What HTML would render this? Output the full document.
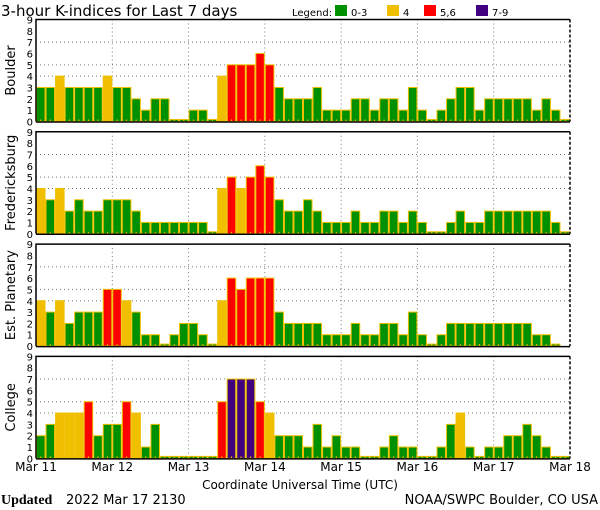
<!DOCTYPE html>
<html><head><meta charset="utf-8"><style>
body{margin:0;background:#fff;}
svg{display:block;font-family:"DejaVu Sans","Liberation Sans",sans-serif;}
</style></head><body>
<svg id="chart" width="600" height="510" viewBox="0 0 600 510">
<text x="1" y="16" font-size="15" fill="#000">3-hour K-indices for Last 7 days</text>
<g>
<text x="292" y="16" font-size="10">Legend:</text>
<rect x="335" y="5" width="12" height="11" fill="#009000"/>
<text x="351" y="16" font-size="10">0-3</text>
<rect x="387" y="5" width="12" height="11" fill="#f0c000"/>
<text x="403" y="16" font-size="10">4</text>
<rect x="424" y="5" width="12" height="11" fill="#ff0000"/>
<text x="440" y="16" font-size="10">5,6</text>
<rect x="476" y="5" width="12" height="11" fill="#400080"/>
<text x="492" y="16" font-size="10">7-9</text>
</g>
<g id="panels"></g>
<text x="300" y="489" font-size="12" text-anchor="middle">Coordinate Universal Time (UTC)</text>
<text x="1" y="504" font-size="14" font-family="Liberation Serif,serif" font-weight="bold">Updated</text>
<text x="66" y="504" font-size="13">2022 Mar 17 2130</text>
<text x="598" y="504" font-size="13" text-anchor="end">NOAA/SWPC Boulder, CO USA</text>
</svg>
<script>
const dayLabels = ["Mar 11","Mar 12","Mar 13","Mar 14","Mar 15","Mar 16","Mar 17","Mar 18"];
const stationNames = ["Boulder","Fredericksburg","Est. Planetary","College"];
const boulder = [3,3,4,3,3,3,3,4, 3,3,2,1,2,2,0,0, 1,1,0,4,5,5,5,6, 5,3,2,2,2,3,1,1, 1,2,2,1,2,2,1,3, 1,0,1,2,3,3,1,2, 2,2,2,2,1,2,1,0];
const fredericksburg = [4,3,4,2,3,2,2,3, 3,3,2,1,1,1,1,1, 1,1,0,4,5,4,5,6, 5,3,2,2,3,2,1,1, 1,2,1,1,2,2,1,2, 1,0,0,1,2,1,1,2, 2,2,2,2,2,2,1,0];
const planetary = [4,3,4,2,3,3,3,5, 5,4,3,1,1,0,1,2, 2,1,0,4,6,5,6,6, 6,3,2,2,2,2,1,1, 1,2,1,1,2,2,1,3, 1,0,1,2,2,2,2,2, 2,2,2,2,1,1,0,null];
const college = [2,3,4,4,4,5,2,3, 3,5,4,1,3,0,0,0, 0,0,0,5,7,7,7,5, 4,2,2,2,1,3,1,2, 1,1,0,0,1,2,1,1, 0,0,1,3,4,1,0,1, 1,2,2,3,2,1,0,0];
const yTicks = [0,1,2,3,4,5,6,7,8,9];
const gridLevels = [4,5,7];
const series = [boulder, fredericksburg, planetary, college];

const NS = "http://www.w3.org/2000/svg";
const X0 = 36, X1 = 570, N = 56, UNIT = 11.33;
const xScale = i => X0 + i * (X1 - X0) / N;
const panelsG = document.getElementById('panels');
function mk(tag, attrs, parent){const e=document.createElementNS(NS,tag);for(const k in attrs)e.setAttribute(k,attrs[k]);parent.appendChild(e);return e;}
function color(v){return v<=3?"#009000":v===4?"#f0c000":v<=6?"#ff0000":"#400080";}

series.forEach((data, p) => {
  const top = 19.5 + p * 112.3;
  const bottom = top + 9 * UNIT;
  const yScale = v => bottom - v * UNIT;
  const g = mk('g', {}, panelsG);
  
  
  gridLevels.forEach(l => {
    const ln = mk('line', {x1:X0, x2:X1, y1:yScale(l), y2:yScale(l), stroke:"#777", "stroke-dasharray":"1,3"}, g);
    
    
  });
  for (let d = 1; d < 7; d++) {
    const x = xScale(d * 8);
    const ln = mk('line', {x1:x, x2:x, y1:top, y2:bottom, stroke:"#777", "stroke-dasharray":"1,3"}, g);
    
    
  }
  data.forEach((v, i) => {
    if (v === null) return;
    const x = xScale(i), w = xScale(i+1) - x;
    const h = v === 0 ? 2 : v * UNIT;
    const r = mk('rect', {x:x+0.5, y:bottom-h, width:w-1, height:h, fill:color(v), stroke:"#f0c000", "stroke-width":1}, g);
    
    
    mk('line', {x1:x+w/2, x2:x+w/2, y1:bottom-2, y2:bottom, stroke:"#f0c000"}, g);
  });
  const f = mk('path', {d:`M${X0},${bottom} V${top} H${X1}`, fill:"none", stroke:"#000", "stroke-width":1.5}, g);
  
  
  mk('line', {x1:X1, x2:X1, y1:top, y2:bottom, stroke:"#000", "stroke-width":1.5, "stroke-dasharray":"3,2"}, g);
  const xa = mk('line', {x1:X0, x2:X1, y1:bottom+0.5, y2:bottom+0.5, stroke:"#000", "stroke-width":1.5}, g);
  
  
  yTicks.forEach(t => {
    const tx = mk('text', {x:33, y:yScale(t)+4, "font-size":10, "text-anchor":"end"}, g);
    tx.textContent = t;
    
    
  });
  const cy = (top + bottom) / 2;
  const yt = mk('text', {x:0, y:0, "font-size":13, "text-anchor":"middle", transform:`translate(15,${cy}) rotate(-90)`}, g);
  yt.textContent = stationNames[p];
  
  
});
dayLabels.forEach((d, i) => {
  const t = mk('text', {x:xScale(i*8), y:471, "font-size":12, "text-anchor":"middle"}, panelsG);
  t.textContent = d;
  
  
});
</script>
</body></html>
